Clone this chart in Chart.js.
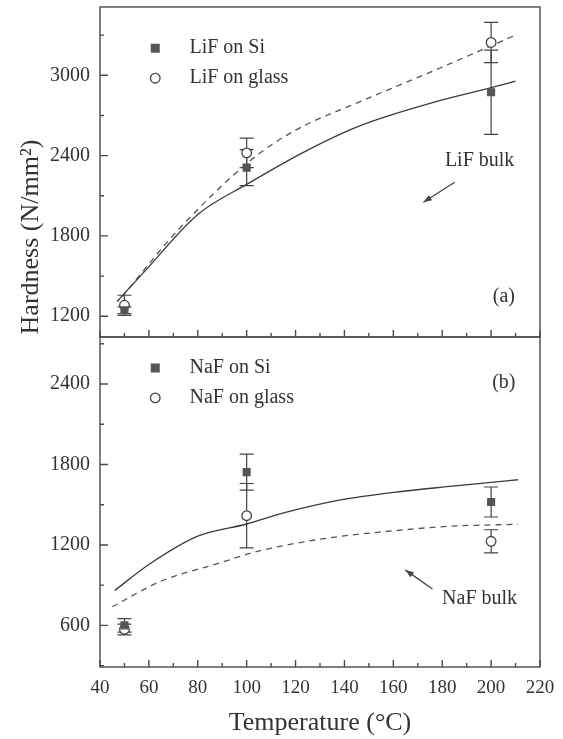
<!DOCTYPE html>
<html>
<head>
<meta charset="utf-8">
<script src="https://cdn.jsdelivr.net/npm/chart.js@4/dist/chart.umd.min.js"></script>
<style>
  html, body { margin: 0; padding: 0; background: #fff; }
  #wrap { position: relative; width: 563px; height: 739px; }
  #wrap canvas { position: absolute; left: 0; }
  #chartA { top: 0; }
  #chartB { top: 330px; }
</style>
</head>
<body>
<div id="wrap">
  <canvas id="chartB" width="563" height="409"></canvas>
  <canvas id="chartA" width="563" height="344"></canvas>
</div>
<script>
// ==========================
// DATA
// ==========================

const temps = [50, 100, 200];

// panel (a) - LiF
const lifSi = [1245, 2310, 2873];
const lifSiErr = [25, 135, 315];
const lifGlass = [1282, 2420, 3245];
const lifGlassErr = [75, 110, 150];

const lifBulkT = [47, 58, 80, 100, 124, 146, 176, 200, 210];
const lifBulkH = [1310, 1530, 1960, 2185, 2432, 2620, 2795, 2907, 2957];
const lifBulkDashT = [49, 72, 102, 120, 146, 176, 200, 210];
const lifBulkDashH = [1345, 1845, 2370, 2590, 2800, 3030, 3220, 3300];

// panel (b) - NaF
const nafSi = [600, 1743, 1520];
const nafSiErr = [50, 134, 112];
const nafGlass = [570, 1418, 1227];
const nafGlassErr = [40, 240, 86];

const nafBulkT = [46, 60, 80, 100, 114, 139, 161, 183, 200, 211];
const nafBulkH = [860, 1054, 1265, 1356, 1433, 1537, 1594, 1636, 1666, 1686];
const nafBulkDashT = [45, 65, 90, 102, 121, 139, 161, 183, 211];
const nafBulkDashH = [739, 930, 1071, 1141, 1215, 1265, 1307, 1339, 1354];

// axes (every tick mark; only majors get a label)
const xRange = [40, 220];
const xTicks = [40, 50, 60, 70, 80, 90, 100, 110, 120, 130, 140, 150, 160, 170, 180, 190, 200, 210, 220];
const xMajor = 20;
const topRange = [1045, 3510];
const topTicks = [1200, 1500, 1800, 2100, 2400, 2700, 3000, 3300];
const bottomRange = [290, 2750];
const bottomTicks = [300, 600, 900, 1200, 1500, 1800, 2100, 2400, 2700];
const yMajor = 600;

// ==========================
// STYLE
// ==========================

const ink = '#333';
const axisInk = '#4a4a4a';
const serif = '"Liberation Serif", "DejaVu Serif", serif';

function pts(xs, ys) {
    return xs.map((x, i) => ({ x: x, y: ys[i] }));
}

// ==========================
// PLUGINS
// ==========================

const errorBars = {
    id: 'errorBars',
    beforeDatasetsDraw(chart) {
        const ctx = chart.ctx;
        const scale = chart.scales.y;
        ctx.save();
        ctx.strokeStyle = '#444';
        ctx.lineWidth = 1.2;
        chart.data.datasets.forEach((ds, di) => {
            if (!ds.errors) return;
            const meta = chart.getDatasetMeta(di);
            meta.data.forEach((el, i) => {
                const v = ds.data[i].y;
                const hi = scale.getPixelForValue(v + ds.errors[i]);
                const lo = scale.getPixelForValue(v - ds.errors[i]);
                ctx.beginPath();
                ctx.moveTo(el.x, hi); ctx.lineTo(el.x, lo);
                ctx.moveTo(el.x - 7, hi); ctx.lineTo(el.x + 7, hi);
                ctx.moveTo(el.x - 7, lo); ctx.lineTo(el.x + 7, lo);
                ctx.stroke();
            });
        });
        ctx.restore();
    }
};

// frame, inward ticks, legend and notes of one panel
const frame = {
    id: 'frame',
    afterDraw(chart, args, opts) {
        const { ctx, chartArea: a, scales } = chart;
        const x = scales.x, y = scales.y;
        ctx.save();
        ctx.strokeStyle = axisInk;
        ctx.lineWidth = 1.4;
        ctx.strokeRect(a.left, a.top, a.right - a.left, a.bottom - a.top);
        ctx.beginPath();
        x.ticks.forEach(t => {
            const px = x.getPixelForValue(t.value);
            const len = t.value % xMajor === 0 ? 7 : 4;
            ctx.moveTo(px, a.bottom); ctx.lineTo(px, a.bottom - len);
        });
        y.ticks.forEach(t => {
            const py = y.getPixelForValue(t.value);
            const len = t.value % yMajor === 0 ? 8 : 4;
            ctx.moveTo(a.left, py); ctx.lineTo(a.left + len, py);
        });
        ctx.stroke();
        ctx.restore();

        const X = v => x.getPixelForValue(v);
        const Y = v => y.getPixelForValue(v);
        ctx.save();
        ctx.fillStyle = ink;
        ctx.font = '20px ' + serif;
        ctx.textBaseline = 'middle';

        // legend
        const lg = opts.legend;
        ctx.fillStyle = '#555';
        ctx.fillRect(X(lg.x) - 4.5, Y(lg.y[0]) - 4.5, 9, 9);
        ctx.beginPath();
        ctx.arc(X(lg.x), Y(lg.y[1]), 4.8, 0, Math.PI * 2);
        ctx.strokeStyle = '#444';
        ctx.lineWidth = 1.3;
        ctx.stroke();
        ctx.fillStyle = ink;
        ctx.textAlign = 'left';
        ctx.fillText(lg.text[0], X(lg.x + 14), Y(lg.y[0]));
        ctx.fillText(lg.text[1], X(lg.x + 14), Y(lg.y[1]));

        // bulk label and arrow
        const n = opts.note;
        ctx.textAlign = 'center';
        ctx.fillText(n.text, X(n.at[0]), Y(n.at[1]));
        const x1 = X(n.from[0]), y1 = Y(n.from[1]);
        const x2 = X(n.to[0]), y2 = Y(n.to[1]);
        const ang = Math.atan2(y2 - y1, x2 - x1);
        ctx.beginPath();
        ctx.moveTo(x1, y1); ctx.lineTo(x2, y2);
        ctx.stroke();
        ctx.beginPath();
        ctx.moveTo(x2, y2);
        ctx.lineTo(x2 - 9 * Math.cos(ang - 0.35), y2 - 9 * Math.sin(ang - 0.35));
        ctx.lineTo(x2 - 9 * Math.cos(ang + 0.35), y2 - 9 * Math.sin(ang + 0.35));
        ctx.closePath();
        ctx.fillStyle = '#444';
        ctx.fill();

        // panel tag
        ctx.fillStyle = ink;
        ctx.fillText(opts.tag.text, X(opts.tag.at[0]), Y(opts.tag.at[1]));

        // y title (drawn once, by the top panel)
        if (opts.yTitle) {
            ctx.font = '26px ' + serif;
            ctx.translate(31, 237);
            ctx.rotate(-Math.PI / 2);
            ctx.fillText(opts.yTitle, 0, 0);
        }
        ctx.restore();
    }
};

// ==========================
// CHARTS
// ==========================

const marker = {
    type: 'scatter',
    pointRadius: 4.8,
    pointHoverRadius: 4.8,
    borderWidth: 1.3
};

const curve = {
    type: 'line',
    pointRadius: 0,
    borderWidth: 1.3,
    borderColor: '#3a3a3a',
    cubicInterpolationMode: 'monotone',
    fill: false
};

function panel(canvasId, series, range, yTicks, showX, frameOpts) {
    return new Chart(document.getElementById(canvasId), {
        type: 'scatter',
        data: {
            datasets: [
                { ...marker, label: series.names[0], data: pts(temps, series.si), errors: series.siErr,
                  pointStyle: 'rect', backgroundColor: '#555', borderColor: '#555' },
                { ...marker, label: series.names[1], data: pts(temps, series.glass), errors: series.glassErr,
                  pointStyle: 'circle', backgroundColor: '#fff', borderColor: '#444' },
                { ...curve, label: series.names[2], data: pts(series.bulkT, series.bulkH) },
                { ...curve, label: series.names[3], data: pts(series.dashT, series.dashH),
                  borderDash: [6, 5], borderColor: '#555' }
            ]
        },
        options: {
            responsive: false,
            animation: false,
            layout: { padding: { left: 0, right: 23, top: 7, bottom: showX ? 0 : 7 } },
            plugins: {
                legend: { display: false },
                tooltip: { enabled: false },
                frame: frameOpts
            },
            scales: {
                x: {
                    type: 'linear',
                    min: xRange[0],
                    max: xRange[1],
                    grid: { display: false, drawTicks: false },
                    border: { display: false },
                    afterBuildTicks: s => { s.ticks = xTicks.map(v => ({ value: v })); },
                    ticks: {
                        display: showX,
                        autoSkip: false,
                        maxRotation: 0,
                        padding: 10,
                        color: ink,
                        font: { family: serif, size: 19 },
                        callback: v => (v % xMajor === 0 ? v : '')
                    },
                    title: {
                        display: showX,
                        text: 'Temperature (°C)',
                        color: ink,
                        font: { family: serif, size: 26 },
                        padding: { top: 0, bottom: 0 }
                    },
                    afterFit: s => {
                        s.height = showX ? 72 : 0;
                        s.paddingLeft = 0;
                        s.paddingRight = 0;
                    }
                },
                y: {
                    type: 'linear',
                    position: 'left',
                    min: range[0],
                    max: range[1],
                    grid: { display: false, drawTicks: false },
                    border: { display: false },
                    afterBuildTicks: s => { s.ticks = yTicks.map(v => ({ value: v })); },
                    ticks: {
                        autoSkip: false,
                        padding: 10,
                        color: ink,
                        font: { family: serif, size: 20 },
                        callback: v => (v % yMajor === 0 ? v : '')
                    },
                    afterFit: s => {
                        s.width = 100;
                        s.paddingTop = 0;
                        s.paddingBottom = 0;
                    }
                }
            }
        },
        plugins: [errorBars, frame]
    });
}

// ==========================
// PANEL (a) LiF
// ==========================

panel('chartA', {
    names: ['LiF on Si', 'LiF on glass', 'LiF bulk', 'LiF bulk (dashed)'],
    si: lifSi, siErr: lifSiErr,
    glass: lifGlass, glassErr: lifGlassErr,
    bulkT: lifBulkT, bulkH: lifBulkH,
    dashT: lifBulkDashT, dashH: lifBulkDashH
}, topRange, topTicks, false, {
    legend: { x: 62.6, y: [3202, 2978], text: ['LiF on Si', 'LiF on glass'] },
    note: { text: 'LiF bulk', at: [195.3, 2358], from: [185.1, 2201], to: [172.3, 2051] },
    tag: { text: '(a)', at: [205.2, 1342] },
    yTitle: 'Hardness (N/mm²)'
});

// ==========================
// PANEL (b) NaF
// ==========================

panel('chartB', {
    names: ['NaF on Si', 'NaF on glass', 'NaF bulk', 'NaF bulk (dashed)'],
    si: nafSi, siErr: nafSiErr,
    glass: nafGlass, glassErr: nafGlassErr,
    bulkT: nafBulkT, bulkH: nafBulkH,
    dashT: nafBulkDashT, dashH: nafBulkDashH
}, bottomRange, bottomTicks, true, {
    legend: { x: 62.6, y: [2519, 2296], text: ['NaF on Si', 'NaF on glass'] },
    note: { text: 'NaF bulk', at: [195.3, 798], from: [176, 872], to: [164.9, 1014] },
    tag: { text: '(b)', at: [205.2, 2407] },
    yTitle: null
});
</script>
</body>
</html>
